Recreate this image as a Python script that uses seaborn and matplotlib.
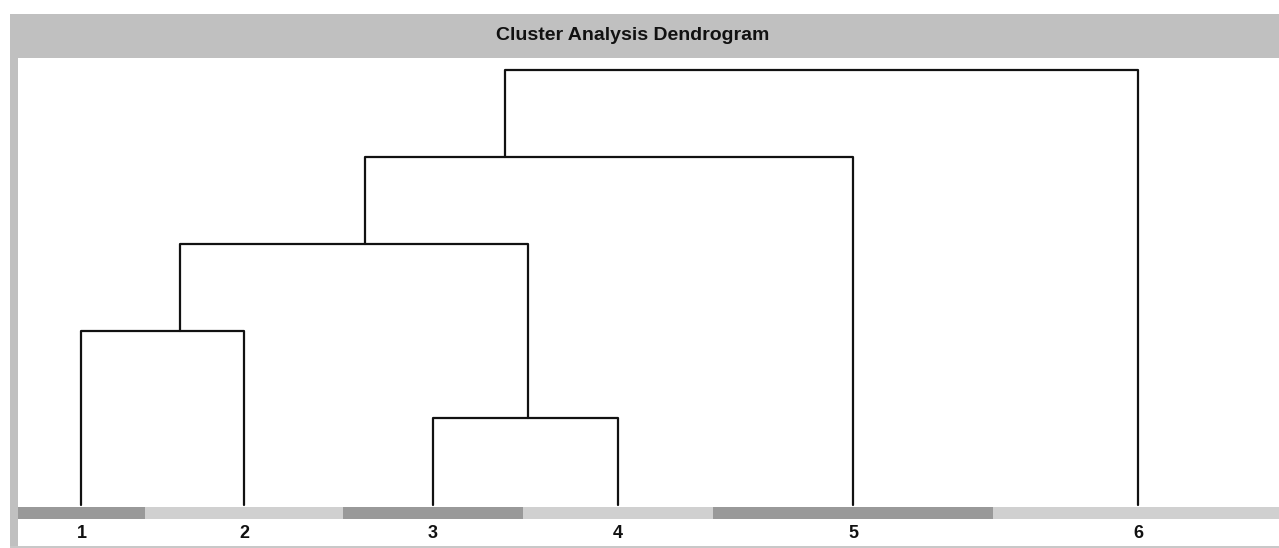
import seaborn as sns
import matplotlib.pyplot as plt
import matplotlib.patches as mpatches
import numpy as np
import pandas as pd

# leaves, in display order, and the width of each leaf's band slot
leaf_labels = ['1', '2', '3', '4', '5', '6']
leaf_widths = [127, 198, 180, 190, 280, 290]
band_start = 18
band_colors = ['#999999', '#d0d0d0', '#999999', '#d0d0d0', '#999999', '#d0d0d0']

# merges: (left node, right node, height); nodes 0-5 are leaves, new ids follow
merge_left = [2, 0, 7, 8, 9]
merge_right = [3, 1, 6, 4, 5]
merge_height = [1.0, 2.0, 3.0, 4.0, 5.0]

W, H = 1279, 548
sns.set_theme(style='white')
plt.rcParams['font.family'] = ['Liberation Sans', 'DejaVu Sans']

fig = plt.figure(figsize=(W / 100, H / 100), dpi=100)
fig.patch.set_facecolor('white')

# frame: title bar, left strip, bottom rule
fig.add_artist(mpatches.Rectangle((10 / W, (H - 58) / H), 1 - 10 / W, 44 / H,
                                  transform=fig.transFigure, color='#c0c0c0', lw=0))
fig.add_artist(mpatches.Rectangle((10 / W, (H - 546) / H), 8 / W, 488 / H,
                                  transform=fig.transFigure, color='#c0c0c0', lw=0))
fig.add_artist(mpatches.Rectangle((10 / W, 0), 1 - 10 / W, 2.5 / H,
                                  transform=fig.transFigure, color='#c8c8c8', lw=0))
fig.text(633 / W, (H - 35) / H, 'Cluster Analysis Dendrogram', ha='center', va='center',
         fontsize=14, fontweight='bold', color='#111111')

ax = fig.add_axes([20 / W, 3 / H, 1 - 20 / W, (545 - 58) / H])
ax.set_facecolor('white')
px = 87.0  # pixels per height unit

# band slots
edges = band_start + np.concatenate([[0], np.cumsum(leaf_widths)])
lefts, rights = edges[:-1], edges[1:]
centers = (lefts + rights) / 2
ax.bar(centers, height=12 / px, width=leaf_widths, bottom=-13.5 / px,
       color=band_colors, linewidth=0, clip_on=False)
for c, lab in zip(centers, leaf_labels):
    ax.text(c, -29 / px, lab, ha='center', va='center', fontsize=13,
            fontweight='bold', color='#111111')

# node positions: x = centre of the node's band span
span = {i: (lefts[i], rights[i]) for i in range(len(leaf_labels))}
xpos = {i: centers[i] for i in range(len(leaf_labels))}
ypos = {i: 0.0 for i in range(len(leaf_labels))}
rows = []
nid = len(leaf_labels)
for k, (a, b, h) in enumerate(zip(merge_left, merge_right, merge_height)):
    span[nid] = (min(span[a][0], span[b][0]), max(span[a][1], span[b][1]))
    xpos[nid] = sum(span[nid]) / 2
    ypos[nid] = h
    xa, xb = xpos[a], xpos[b]
    pts = [(xa, ypos[a]), (xa, h), (xb, h), (xb, ypos[b])]
    for j, (x, y) in enumerate(pts):
        rows.append({'seg': k, 'order': j, 'x': x, 'y': y})
    nid += 1

df = pd.DataFrame(rows)
sns.lineplot(data=df, x='x', y='y', units='seg', estimator=None, sort=False,
             color='#111111', linewidth=1.6, ax=ax, legend=False)
ax.set_xlim(20, 1279)
ax.set_ylim(-(545 - 505) / px, (505 - 58) / px)
ax.axis('off')

fig.savefig('out.png', dpi=100)
